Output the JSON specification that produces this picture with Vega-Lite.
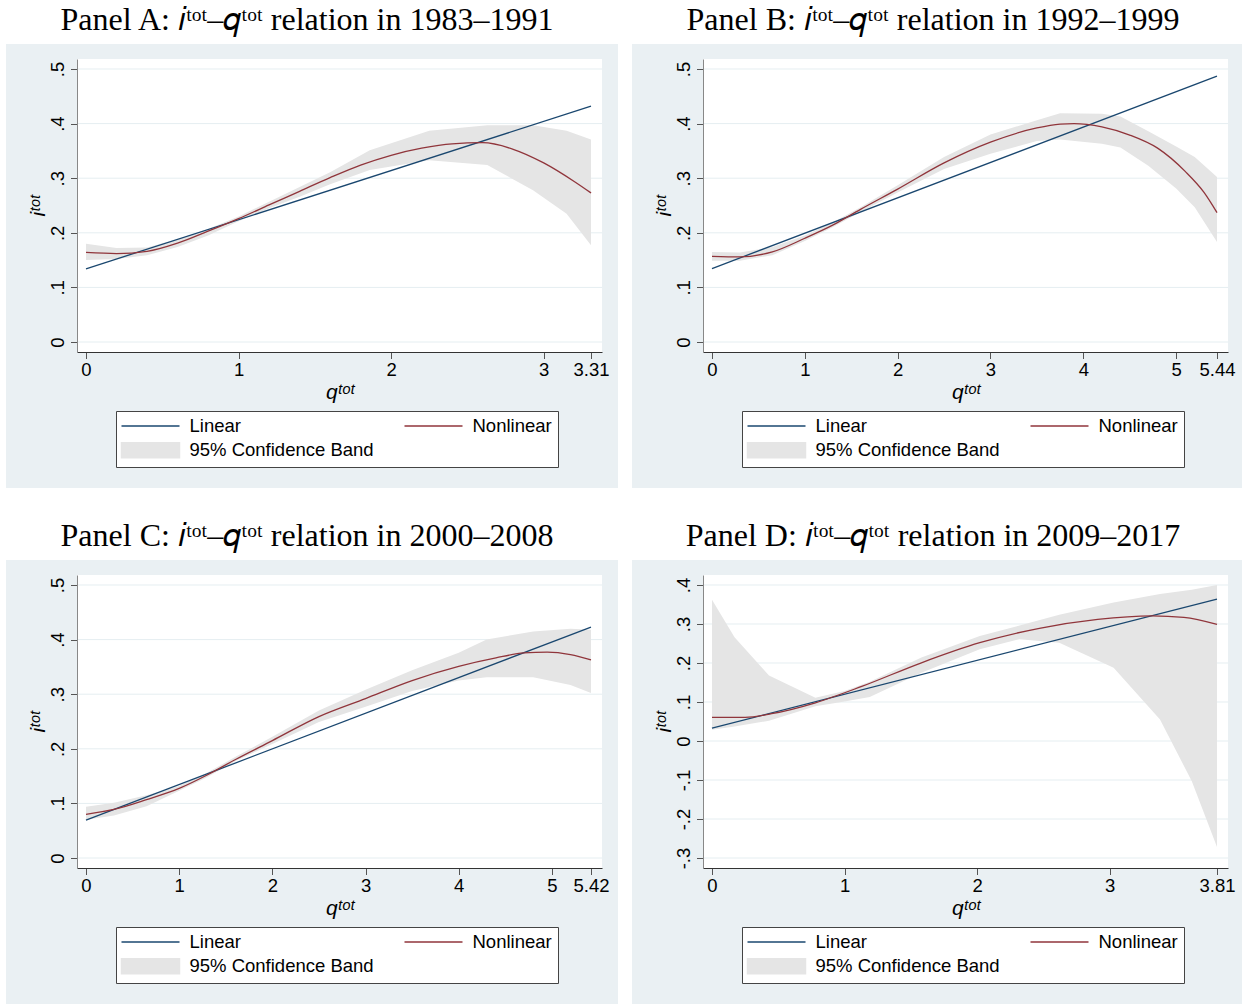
{
  "$schema": "https://vega.github.io/schema/vega-lite/v6.json",
  "background": "white",
  "padding": {"left": 5, "top": 3, "right": 0, "bottom": 0},
  "autosize": {"type": "pad"},
  "columns": 2,
  "spacing": {"row": 30, "column": 13},
  "resolve": {
    "scale": {"x": "independent", "y": "independent", "color": "independent"},
    "axis": {"x": "independent", "y": "independent"},
    "legend": {"color": "independent"}
  },
  "datasets": {
    "lines": [
      {"panel": "A", "series": "Linear", "q": 0, "v": 0.134},
      {"panel": "A", "series": "Linear", "q": 3.31, "v": 0.432},
      {"panel": "A", "series": "Nonlinear", "q": 0, "v": 0.164},
      {"panel": "A", "series": "Nonlinear", "q": 0.2, "v": 0.162},
      {"panel": "A", "series": "Nonlinear", "q": 0.4, "v": 0.166},
      {"panel": "A", "series": "Nonlinear", "q": 0.6, "v": 0.181},
      {"panel": "A", "series": "Nonlinear", "q": 0.8, "v": 0.203},
      {"panel": "A", "series": "Nonlinear", "q": 1.0, "v": 0.226},
      {"panel": "A", "series": "Nonlinear", "q": 1.2, "v": 0.251},
      {"panel": "A", "series": "Nonlinear", "q": 1.4, "v": 0.276},
      {"panel": "A", "series": "Nonlinear", "q": 1.6, "v": 0.301},
      {"panel": "A", "series": "Nonlinear", "q": 1.8, "v": 0.324},
      {"panel": "A", "series": "Nonlinear", "q": 2.0, "v": 0.342},
      {"panel": "A", "series": "Nonlinear", "q": 2.2, "v": 0.355},
      {"panel": "A", "series": "Nonlinear", "q": 2.4, "v": 0.363},
      {"panel": "A", "series": "Nonlinear", "q": 2.6, "v": 0.365},
      {"panel": "A", "series": "Nonlinear", "q": 2.8, "v": 0.353},
      {"panel": "A", "series": "Nonlinear", "q": 3.0, "v": 0.328},
      {"panel": "A", "series": "Nonlinear", "q": 3.2, "v": 0.294},
      {"panel": "A", "series": "Nonlinear", "q": 3.31, "v": 0.273},
      {"panel": "B", "series": "Linear", "q": 0, "v": 0.1345},
      {"panel": "B", "series": "Linear", "q": 5.44, "v": 0.487},
      {"panel": "B", "series": "Nonlinear", "q": 0, "v": 0.157},
      {"panel": "B", "series": "Nonlinear", "q": 0.3, "v": 0.156},
      {"panel": "B", "series": "Nonlinear", "q": 0.65, "v": 0.165},
      {"panel": "B", "series": "Nonlinear", "q": 1.0, "v": 0.19},
      {"panel": "B", "series": "Nonlinear", "q": 1.3, "v": 0.214},
      {"panel": "B", "series": "Nonlinear", "q": 1.6, "v": 0.243},
      {"panel": "B", "series": "Nonlinear", "q": 2.0, "v": 0.28},
      {"panel": "B", "series": "Nonlinear", "q": 2.5, "v": 0.328},
      {"panel": "B", "series": "Nonlinear", "q": 3.0, "v": 0.366},
      {"panel": "B", "series": "Nonlinear", "q": 3.5, "v": 0.392},
      {"panel": "B", "series": "Nonlinear", "q": 3.75, "v": 0.399},
      {"panel": "B", "series": "Nonlinear", "q": 3.9, "v": 0.4},
      {"panel": "B", "series": "Nonlinear", "q": 4.2, "v": 0.394},
      {"panel": "B", "series": "Nonlinear", "q": 4.5, "v": 0.379},
      {"panel": "B", "series": "Nonlinear", "q": 4.8, "v": 0.355},
      {"panel": "B", "series": "Nonlinear", "q": 5.1, "v": 0.312},
      {"panel": "B", "series": "Nonlinear", "q": 5.3, "v": 0.274},
      {"panel": "B", "series": "Nonlinear", "q": 5.44, "v": 0.237},
      {"panel": "C", "series": "Linear", "q": 0, "v": 0.0693},
      {"panel": "C", "series": "Linear", "q": 5.42, "v": 0.423},
      {"panel": "C", "series": "Nonlinear", "q": 0, "v": 0.08},
      {"panel": "C", "series": "Nonlinear", "q": 0.3, "v": 0.089},
      {"panel": "C", "series": "Nonlinear", "q": 0.65, "v": 0.107},
      {"panel": "C", "series": "Nonlinear", "q": 1.0, "v": 0.1275},
      {"panel": "C", "series": "Nonlinear", "q": 1.3, "v": 0.152},
      {"panel": "C", "series": "Nonlinear", "q": 1.6, "v": 0.18},
      {"panel": "C", "series": "Nonlinear", "q": 2.0, "v": 0.215},
      {"panel": "C", "series": "Nonlinear", "q": 2.5, "v": 0.259},
      {"panel": "C", "series": "Nonlinear", "q": 3.0, "v": 0.292},
      {"panel": "C", "series": "Nonlinear", "q": 3.5, "v": 0.325},
      {"panel": "C", "series": "Nonlinear", "q": 4.0, "v": 0.351},
      {"panel": "C", "series": "Nonlinear", "q": 4.4, "v": 0.3665},
      {"panel": "C", "series": "Nonlinear", "q": 4.7, "v": 0.3755},
      {"panel": "C", "series": "Nonlinear", "q": 4.95, "v": 0.377},
      {"panel": "C", "series": "Nonlinear", "q": 5.2, "v": 0.3725},
      {"panel": "C", "series": "Nonlinear", "q": 5.42, "v": 0.363},
      {"panel": "D", "series": "Linear", "q": 0, "v": 0.033},
      {"panel": "D", "series": "Linear", "q": 3.81, "v": 0.364},
      {"panel": "D", "series": "Nonlinear", "q": 0, "v": 0.0606},
      {"panel": "D", "series": "Nonlinear", "q": 0.25, "v": 0.0606},
      {"panel": "D", "series": "Nonlinear", "q": 0.45, "v": 0.07},
      {"panel": "D", "series": "Nonlinear", "q": 0.78, "v": 0.098},
      {"panel": "D", "series": "Nonlinear", "q": 1.13, "v": 0.14},
      {"panel": "D", "series": "Nonlinear", "q": 1.58, "v": 0.2006},
      {"panel": "D", "series": "Nonlinear", "q": 2.02, "v": 0.252},
      {"panel": "D", "series": "Nonlinear", "q": 2.47, "v": 0.289},
      {"panel": "D", "series": "Nonlinear", "q": 2.91, "v": 0.312},
      {"panel": "D", "series": "Nonlinear", "q": 3.32, "v": 0.321},
      {"panel": "D", "series": "Nonlinear", "q": 3.56, "v": 0.317},
      {"panel": "D", "series": "Nonlinear", "q": 3.81, "v": 0.299}
    ],
    "band": [
      {"panel": "A", "q": 0, "lo": 0.15, "hi": 0.18},
      {"panel": "A", "q": 0.2, "lo": 0.152, "hi": 0.172},
      {"panel": "A", "q": 0.4, "lo": 0.159, "hi": 0.173},
      {"panel": "A", "q": 0.6, "lo": 0.174, "hi": 0.188},
      {"panel": "A", "q": 0.8, "lo": 0.195, "hi": 0.207},
      {"panel": "A", "q": 1.0, "lo": 0.221, "hi": 0.23},
      {"panel": "A", "q": 1.2, "lo": 0.245, "hi": 0.257},
      {"panel": "A", "q": 1.4, "lo": 0.266, "hi": 0.284},
      {"panel": "A", "q": 1.6, "lo": 0.289, "hi": 0.311},
      {"panel": "A", "q": 1.86, "lo": 0.315, "hi": 0.351},
      {"panel": "A", "q": 2.25, "lo": 0.333, "hi": 0.387},
      {"panel": "A", "q": 2.63, "lo": 0.324, "hi": 0.397},
      {"panel": "A", "q": 2.93, "lo": 0.278, "hi": 0.397},
      {"panel": "A", "q": 3.15, "lo": 0.235, "hi": 0.387},
      {"panel": "A", "q": 3.31, "lo": 0.177, "hi": 0.371},
      {"panel": "B", "q": 0, "lo": 0.149, "hi": 0.165},
      {"panel": "B", "q": 0.3, "lo": 0.149, "hi": 0.164},
      {"panel": "B", "q": 0.65, "lo": 0.159, "hi": 0.174},
      {"panel": "B", "q": 1.0, "lo": 0.185, "hi": 0.195},
      {"panel": "B", "q": 1.3, "lo": 0.21, "hi": 0.219},
      {"panel": "B", "q": 1.6, "lo": 0.238, "hi": 0.247},
      {"panel": "B", "q": 2.0, "lo": 0.274, "hi": 0.287},
      {"panel": "B", "q": 2.5, "lo": 0.317, "hi": 0.339},
      {"panel": "B", "q": 3.0, "lo": 0.345, "hi": 0.38},
      {"panel": "B", "q": 3.5, "lo": 0.368, "hi": 0.406},
      {"panel": "B", "q": 3.75, "lo": 0.371, "hi": 0.419},
      {"panel": "B", "q": 4.2, "lo": 0.363, "hi": 0.418},
      {"panel": "B", "q": 4.4, "lo": 0.356, "hi": 0.413},
      {"panel": "B", "q": 4.7, "lo": 0.323, "hi": 0.386},
      {"panel": "B", "q": 5.0, "lo": 0.281, "hi": 0.358},
      {"panel": "B", "q": 5.2, "lo": 0.247, "hi": 0.339},
      {"panel": "B", "q": 5.44, "lo": 0.183, "hi": 0.302},
      {"panel": "C", "q": 0, "lo": 0.07, "hi": 0.094},
      {"panel": "C", "q": 0.3, "lo": 0.078, "hi": 0.101},
      {"panel": "C", "q": 0.65, "lo": 0.095, "hi": 0.115},
      {"panel": "C", "q": 1.0, "lo": 0.123, "hi": 0.132},
      {"panel": "C", "q": 1.3, "lo": 0.148, "hi": 0.156},
      {"panel": "C", "q": 1.6, "lo": 0.177, "hi": 0.185},
      {"panel": "C", "q": 2.0, "lo": 0.209, "hi": 0.222},
      {"panel": "C", "q": 2.5, "lo": 0.249, "hi": 0.27},
      {"panel": "C", "q": 3.0, "lo": 0.277, "hi": 0.308},
      {"panel": "C", "q": 3.5, "lo": 0.306, "hi": 0.344},
      {"panel": "C", "q": 4.0, "lo": 0.325, "hi": 0.376},
      {"panel": "C", "q": 4.3, "lo": 0.331, "hi": 0.4},
      {"panel": "C", "q": 4.8, "lo": 0.331, "hi": 0.415},
      {"panel": "C", "q": 5.2, "lo": 0.317, "hi": 0.42},
      {"panel": "C", "q": 5.42, "lo": 0.302, "hi": 0.418},
      {"panel": "D", "q": 0, "lo": 0.029, "hi": 0.362},
      {"panel": "D", "q": 0.17, "lo": 0.037, "hi": 0.266},
      {"panel": "D", "q": 0.43, "lo": 0.052, "hi": 0.168},
      {"panel": "D", "q": 0.78, "lo": 0.089, "hi": 0.111},
      {"panel": "D", "q": 1.0, "lo": 0.101, "hi": 0.128},
      {"panel": "D", "q": 1.19, "lo": 0.113, "hi": 0.152},
      {"panel": "D", "q": 1.58, "lo": 0.175, "hi": 0.214},
      {"panel": "D", "q": 2.02, "lo": 0.235, "hi": 0.269},
      {"panel": "D", "q": 2.32, "lo": 0.261, "hi": 0.296},
      {"panel": "D", "q": 2.62, "lo": 0.252, "hi": 0.324},
      {"panel": "D", "q": 3.03, "lo": 0.188, "hi": 0.355},
      {"panel": "D", "q": 3.38, "lo": 0.055, "hi": 0.377},
      {"panel": "D", "q": 3.62, "lo": -0.103, "hi": 0.388},
      {"panel": "D", "q": 3.81, "lo": -0.272, "hi": 0.4}
    ],
    "grid": [
      {"panel": "A", "g": 0}, {"panel": "A", "g": 0.1}, {"panel": "A", "g": 0.2}, {"panel": "A", "g": 0.3}, {"panel": "A", "g": 0.4}, {"panel": "A", "g": 0.5},
      {"panel": "B", "g": 0}, {"panel": "B", "g": 0.1}, {"panel": "B", "g": 0.2}, {"panel": "B", "g": 0.3}, {"panel": "B", "g": 0.4}, {"panel": "B", "g": 0.5},
      {"panel": "C", "g": 0}, {"panel": "C", "g": 0.1}, {"panel": "C", "g": 0.2}, {"panel": "C", "g": 0.3}, {"panel": "C", "g": 0.4}, {"panel": "C", "g": 0.5},
      {"panel": "D", "g": -0.3}, {"panel": "D", "g": -0.2}, {"panel": "D", "g": -0.1}, {"panel": "D", "g": 0}, {"panel": "D", "g": 0.1}, {"panel": "D", "g": 0.2}, {"panel": "D", "g": 0.3}, {"panel": "D", "g": 0.4}
    ]
  },
  "concat": [
    {
      "width": 525, "height": 293,
      "title": {"text": "Panel A: 𝑖ᵗᵒᵗ–𝑞ᵗᵒᵗ relation in 1983–1991"},
      "layer": [
        {"data": {"values": [{}]}, "mark": {"type": "rect", "clip": false, "color": "#EAF0F3"},
         "encoding": {
           "x": {"datum": -0.52436, "type": "quantitative", "scale": {"domain": [-0.05899, 3.3821], "nice": false, "zero": false},
                 "axis": {"zindex": 1, "values": [0, 1, 2, 3, 3.31], "labelExpr": "'' + datum.value", "title": "qᵗᵒᵗ"}},
           "x2": {"datum": 3.487},
           "y": {"datum": -0.2674, "type": "quantitative", "scale": {"domain": [-0.0183, 0.5183], "nice": false, "zero": false},
                 "axis": {"zindex": 1, "values": [0, 0.1, 0.2, 0.3, 0.4, 0.5], "labelExpr": "(datum.value < 0 ? '-' : '') + replace(format(abs(datum.value), '~g'), '0.', '.')", "title": "iᵗᵒᵗ"}},
           "y2": {"datum": 0.5458}}},
        {"data": {"values": [{}]}, "mark": {"type": "rect", "clip": false, "color": "white"},
         "encoding": {"x": {"datum": -0.05899, "type": "quantitative"}, "x2": {"datum": 3.3821}, "y": {"datum": -0.0183, "type": "quantitative"}, "y2": {"datum": 0.5183}}},
        {"data": {"name": "grid"}, "transform": [{"filter": "datum.panel === 'A'"}], "mark": {"type": "rule", "color": "#E5EEF1", "strokeWidth": 1},
         "encoding": {"y": {"field": "g", "type": "quantitative"}}},
        {"data": {"name": "band"}, "transform": [{"filter": "datum.panel === 'A'"}], "mark": {"type": "area", "opacity": 1},
         "encoding": {"x": {"field": "q", "type": "quantitative"}, "y": {"field": "lo", "type": "quantitative"}, "y2": {"field": "hi"},
           "color": {"datum": "95% Confidence Band", "type": "nominal", "scale": {"domain": ["Linear", "95% Confidence Band", "Nonlinear"], "range": ["#1A476F", "#E5E5E5", "#90353B"]}}}},
        {"data": {"name": "lines"}, "transform": [{"filter": "datum.panel === 'A'"}], "mark": {"type": "line", "strokeWidth": 1.3, "interpolate": "monotone"},
         "encoding": {"x": {"field": "q", "type": "quantitative"}, "y": {"field": "v", "type": "quantitative"},
           "color": {"field": "series", "type": "nominal", "scale": {"domain": ["Linear", "95% Confidence Band", "Nonlinear"], "range": ["#1A476F", "#E5E5E5", "#90353B"]},
             "legend": {"title": null, "orient": "none", "legendX": 39, "legendY": 352, "columns": 2,
               "encode": {"symbols": {"update": {
                 "shape": {"signal": "datum.label === '95% Confidence Band' ? 'M-3.867,-1H3.867V1H-3.867Z' : 'M-3.867,0H3.867'"},
                 "fill": {"signal": "datum.label === '95% Confidence Band' ? '#E5E5E5' : 'transparent'"},
                 "stroke": {"signal": "datum.label === 'Linear' ? '#1A476F' : (datum.label === 'Nonlinear' ? '#90353B' : 'transparent')"}}}}}}}}
      ]
    },
    {
      "width": 525, "height": 293,
      "title": {"text": "Panel B: 𝑖ᵗᵒᵗ–𝑞ᵗᵒᵗ relation in 1992–1999"},
      "layer": [
        {"data": {"values": [{}]}, "mark": {"type": "rect", "clip": false, "color": "#EAF0F3"},
         "encoding": {
           "x": {"datum": -0.86178, "type": "quantitative", "scale": {"domain": [-0.09695, 5.55849], "nice": false, "zero": false},
                 "axis": {"zindex": 1, "values": [0, 1, 2, 3, 4, 5, 5.44], "labelExpr": "'' + datum.value", "title": "qᵗᵒᵗ"}},
           "x2": {"datum": 5.73085},
           "y": {"datum": -0.2674, "type": "quantitative", "scale": {"domain": [-0.0183, 0.5183], "nice": false, "zero": false},
                 "axis": {"zindex": 1, "values": [0, 0.1, 0.2, 0.3, 0.4, 0.5], "labelExpr": "(datum.value < 0 ? '-' : '') + replace(format(abs(datum.value), '~g'), '0.', '.')", "title": "iᵗᵒᵗ"}},
           "y2": {"datum": 0.5458}}},
        {"data": {"values": [{}]}, "mark": {"type": "rect", "clip": false, "color": "white"},
         "encoding": {"x": {"datum": -0.09695, "type": "quantitative"}, "x2": {"datum": 5.55849}, "y": {"datum": -0.0183, "type": "quantitative"}, "y2": {"datum": 0.5183}}},
        {"data": {"name": "grid"}, "transform": [{"filter": "datum.panel === 'B'"}], "mark": {"type": "rule", "color": "#E5EEF1", "strokeWidth": 1},
         "encoding": {"y": {"field": "g", "type": "quantitative"}}},
        {"data": {"name": "band"}, "transform": [{"filter": "datum.panel === 'B'"}], "mark": {"type": "area", "opacity": 1},
         "encoding": {"x": {"field": "q", "type": "quantitative"}, "y": {"field": "lo", "type": "quantitative"}, "y2": {"field": "hi"},
           "color": {"datum": "95% Confidence Band", "type": "nominal", "scale": {"domain": ["Linear", "95% Confidence Band", "Nonlinear"], "range": ["#1A476F", "#E5E5E5", "#90353B"]}}}},
        {"data": {"name": "lines"}, "transform": [{"filter": "datum.panel === 'B'"}], "mark": {"type": "line", "strokeWidth": 1.3, "interpolate": "monotone"},
         "encoding": {"x": {"field": "q", "type": "quantitative"}, "y": {"field": "v", "type": "quantitative"},
           "color": {"field": "series", "type": "nominal", "scale": {"domain": ["Linear", "95% Confidence Band", "Nonlinear"], "range": ["#1A476F", "#E5E5E5", "#90353B"]},
             "legend": {"title": null, "orient": "none", "legendX": 39, "legendY": 352, "columns": 2,
               "encode": {"symbols": {"update": {
                 "shape": {"signal": "datum.label === '95% Confidence Band' ? 'M-3.867,-1H3.867V1H-3.867Z' : 'M-3.867,0H3.867'"},
                 "fill": {"signal": "datum.label === '95% Confidence Band' ? '#E5E5E5' : 'transparent'"},
                 "stroke": {"signal": "datum.label === 'Linear' ? '#1A476F' : (datum.label === 'Nonlinear' ? '#90353B' : 'transparent')"}}}}}}}}
      ]
    },
    {
      "width": 525, "height": 293,
      "title": {"text": "Panel C: 𝑖ᵗᵒᵗ–𝑞ᵗᵒᵗ relation in 2000–2008"},
      "layer": [
        {"data": {"values": [{}]}, "mark": {"type": "rect", "clip": false, "color": "#EAF0F3"},
         "encoding": {
           "x": {"datum": -0.85861, "type": "quantitative", "scale": {"domain": [-0.09659, 5.53806], "nice": false, "zero": false},
                 "axis": {"zindex": 1, "values": [0, 1, 2, 3, 4, 5, 5.42], "labelExpr": "'' + datum.value", "title": "qᵗᵒᵗ"}},
           "x2": {"datum": 5.70978},
           "y": {"datum": -0.2674, "type": "quantitative", "scale": {"domain": [-0.0183, 0.5183], "nice": false, "zero": false},
                 "axis": {"zindex": 1, "values": [0, 0.1, 0.2, 0.3, 0.4, 0.5], "labelExpr": "(datum.value < 0 ? '-' : '') + replace(format(abs(datum.value), '~g'), '0.', '.')", "title": "iᵗᵒᵗ"}},
           "y2": {"datum": 0.5458}}},
        {"data": {"values": [{}]}, "mark": {"type": "rect", "clip": false, "color": "white"},
         "encoding": {"x": {"datum": -0.09659, "type": "quantitative"}, "x2": {"datum": 5.53806}, "y": {"datum": -0.0183, "type": "quantitative"}, "y2": {"datum": 0.5183}}},
        {"data": {"name": "grid"}, "transform": [{"filter": "datum.panel === 'C'"}], "mark": {"type": "rule", "color": "#E5EEF1", "strokeWidth": 1},
         "encoding": {"y": {"field": "g", "type": "quantitative"}}},
        {"data": {"name": "band"}, "transform": [{"filter": "datum.panel === 'C'"}], "mark": {"type": "area", "opacity": 1},
         "encoding": {"x": {"field": "q", "type": "quantitative"}, "y": {"field": "lo", "type": "quantitative"}, "y2": {"field": "hi"},
           "color": {"datum": "95% Confidence Band", "type": "nominal", "scale": {"domain": ["Linear", "95% Confidence Band", "Nonlinear"], "range": ["#1A476F", "#E5E5E5", "#90353B"]}}}},
        {"data": {"name": "lines"}, "transform": [{"filter": "datum.panel === 'C'"}], "mark": {"type": "line", "strokeWidth": 1.3, "interpolate": "monotone"},
         "encoding": {"x": {"field": "q", "type": "quantitative"}, "y": {"field": "v", "type": "quantitative"},
           "color": {"field": "series", "type": "nominal", "scale": {"domain": ["Linear", "95% Confidence Band", "Nonlinear"], "range": ["#1A476F", "#E5E5E5", "#90353B"]},
             "legend": {"title": null, "orient": "none", "legendX": 39, "legendY": 352, "columns": 2,
               "encode": {"symbols": {"update": {
                 "shape": {"signal": "datum.label === '95% Confidence Band' ? 'M-3.867,-1H3.867V1H-3.867Z' : 'M-3.867,0H3.867'"},
                 "fill": {"signal": "datum.label === '95% Confidence Band' ? '#E5E5E5' : 'transparent'"},
                 "stroke": {"signal": "datum.label === 'Linear' ? '#1A476F' : (datum.label === 'Nonlinear' ? '#90353B' : 'transparent')"}}}}}}}}
      ]
    },
    {
      "width": 525, "height": 293,
      "title": {"text": "Panel D: 𝑖ᵗᵒᵗ–𝑞ᵗᵒᵗ relation in 2009–2017"},
      "layer": [
        {"data": {"values": [{}]}, "mark": {"type": "rect", "clip": false, "color": "#EAF0F3"},
         "encoding": {
           "x": {"datum": -0.60356, "type": "quantitative", "scale": {"domain": [-0.0679, 3.89299], "nice": false, "zero": false},
                 "axis": {"zindex": 1, "values": [0, 1, 2, 3, 3.81], "labelExpr": "'' + datum.value", "title": "qᵗᵒᵗ"}},
           "x2": {"datum": 4.0137},
           "y": {"datum": -0.67436, "type": "quantitative", "scale": {"domain": [-0.32564, 0.42564], "nice": false, "zero": false},
                 "axis": {"zindex": 1, "values": [-0.3, -0.2, -0.1, 0, 0.1, 0.2, 0.3, 0.4], "labelExpr": "(datum.value < 0 ? '-' : '') + replace(format(abs(datum.value), '~g'), '0.', '.')", "title": "iᵗᵒᵗ"}},
           "y2": {"datum": 0.4641}}},
        {"data": {"values": [{}]}, "mark": {"type": "rect", "clip": false, "color": "white"},
         "encoding": {"x": {"datum": -0.0679, "type": "quantitative"}, "x2": {"datum": 3.89299}, "y": {"datum": -0.32564, "type": "quantitative"}, "y2": {"datum": 0.42564}}},
        {"data": {"name": "grid"}, "transform": [{"filter": "datum.panel === 'D'"}], "mark": {"type": "rule", "color": "#E5EEF1", "strokeWidth": 1},
         "encoding": {"y": {"field": "g", "type": "quantitative"}}},
        {"data": {"name": "band"}, "transform": [{"filter": "datum.panel === 'D'"}], "mark": {"type": "area", "opacity": 1},
         "encoding": {"x": {"field": "q", "type": "quantitative"}, "y": {"field": "lo", "type": "quantitative"}, "y2": {"field": "hi"},
           "color": {"datum": "95% Confidence Band", "type": "nominal", "scale": {"domain": ["Linear", "95% Confidence Band", "Nonlinear"], "range": ["#1A476F", "#E5E5E5", "#90353B"]}}}},
        {"data": {"name": "lines"}, "transform": [{"filter": "datum.panel === 'D'"}], "mark": {"type": "line", "strokeWidth": 1.3, "interpolate": "monotone"},
         "encoding": {"x": {"field": "q", "type": "quantitative"}, "y": {"field": "v", "type": "quantitative"},
           "color": {"field": "series", "type": "nominal", "scale": {"domain": ["Linear", "95% Confidence Band", "Nonlinear"], "range": ["#1A476F", "#E5E5E5", "#90353B"]},
             "legend": {"title": null, "orient": "none", "legendX": 39, "legendY": 352, "columns": 2,
               "encode": {"symbols": {"update": {
                 "shape": {"signal": "datum.label === '95% Confidence Band' ? 'M-3.867,-1H3.867V1H-3.867Z' : 'M-3.867,0H3.867'"},
                 "fill": {"signal": "datum.label === '95% Confidence Band' ? '#E5E5E5' : 'transparent'"},
                 "stroke": {"signal": "datum.label === 'Linear' ? '#1A476F' : (datum.label === 'Nonlinear' ? '#90353B' : 'transparent')"}}}}}}}}
      ]
    }
  ],
  "config": {
    "view": {"stroke": null},
    "axis": {"grid": false, "labelFont": "Liberation Sans", "labelFontSize": 18.5, "labelColor": "#000",
             "titleFont": "Liberation Sans", "titleFontSize": 21, "titleFontWeight": "normal", "titleFontStyle": "italic", "titleColor": "#000",
             "tickColor": "#555", "domainColor": "#333", "tickSize": 6.5, "domainWidth": 1, "tickWidth": 1, "labelOverlap": false, "labelFlush": false},
    "axisX": {"labelPadding": 2, "titlePadding": 2, "labelAngle": 0},
    "axisY": {"labelAngle": 270, "labelAlign": "center", "labelBaseline": "alphabetic", "labelPadding": 7, "titlePadding": 0, "domainColor": "#888"},
    "legend": {"strokeColor": "#444", "fillColor": "white", "padding": 5.5, "columnPadding": 26, "rowPadding": 3.5,
               "symbolSize": 225, "symbolStrokeWidth": 1.5, "symbolOffset": 19.75, "labelOffset": 29.75,
               "labelFont": "Liberation Sans", "labelFontSize": 18.5, "labelColor": "#000", "labelLimit": 400, "cornerRadius": 0,
               "symbolType": "M-3.867,0H3.867"},
    "title": {"font": "Liberation Serif", "fontSize": 32, "fontWeight": "normal", "color": "#000", "offset": 7, "anchor": "middle", "frame": "bounds", "dx": -5}
  }
}
